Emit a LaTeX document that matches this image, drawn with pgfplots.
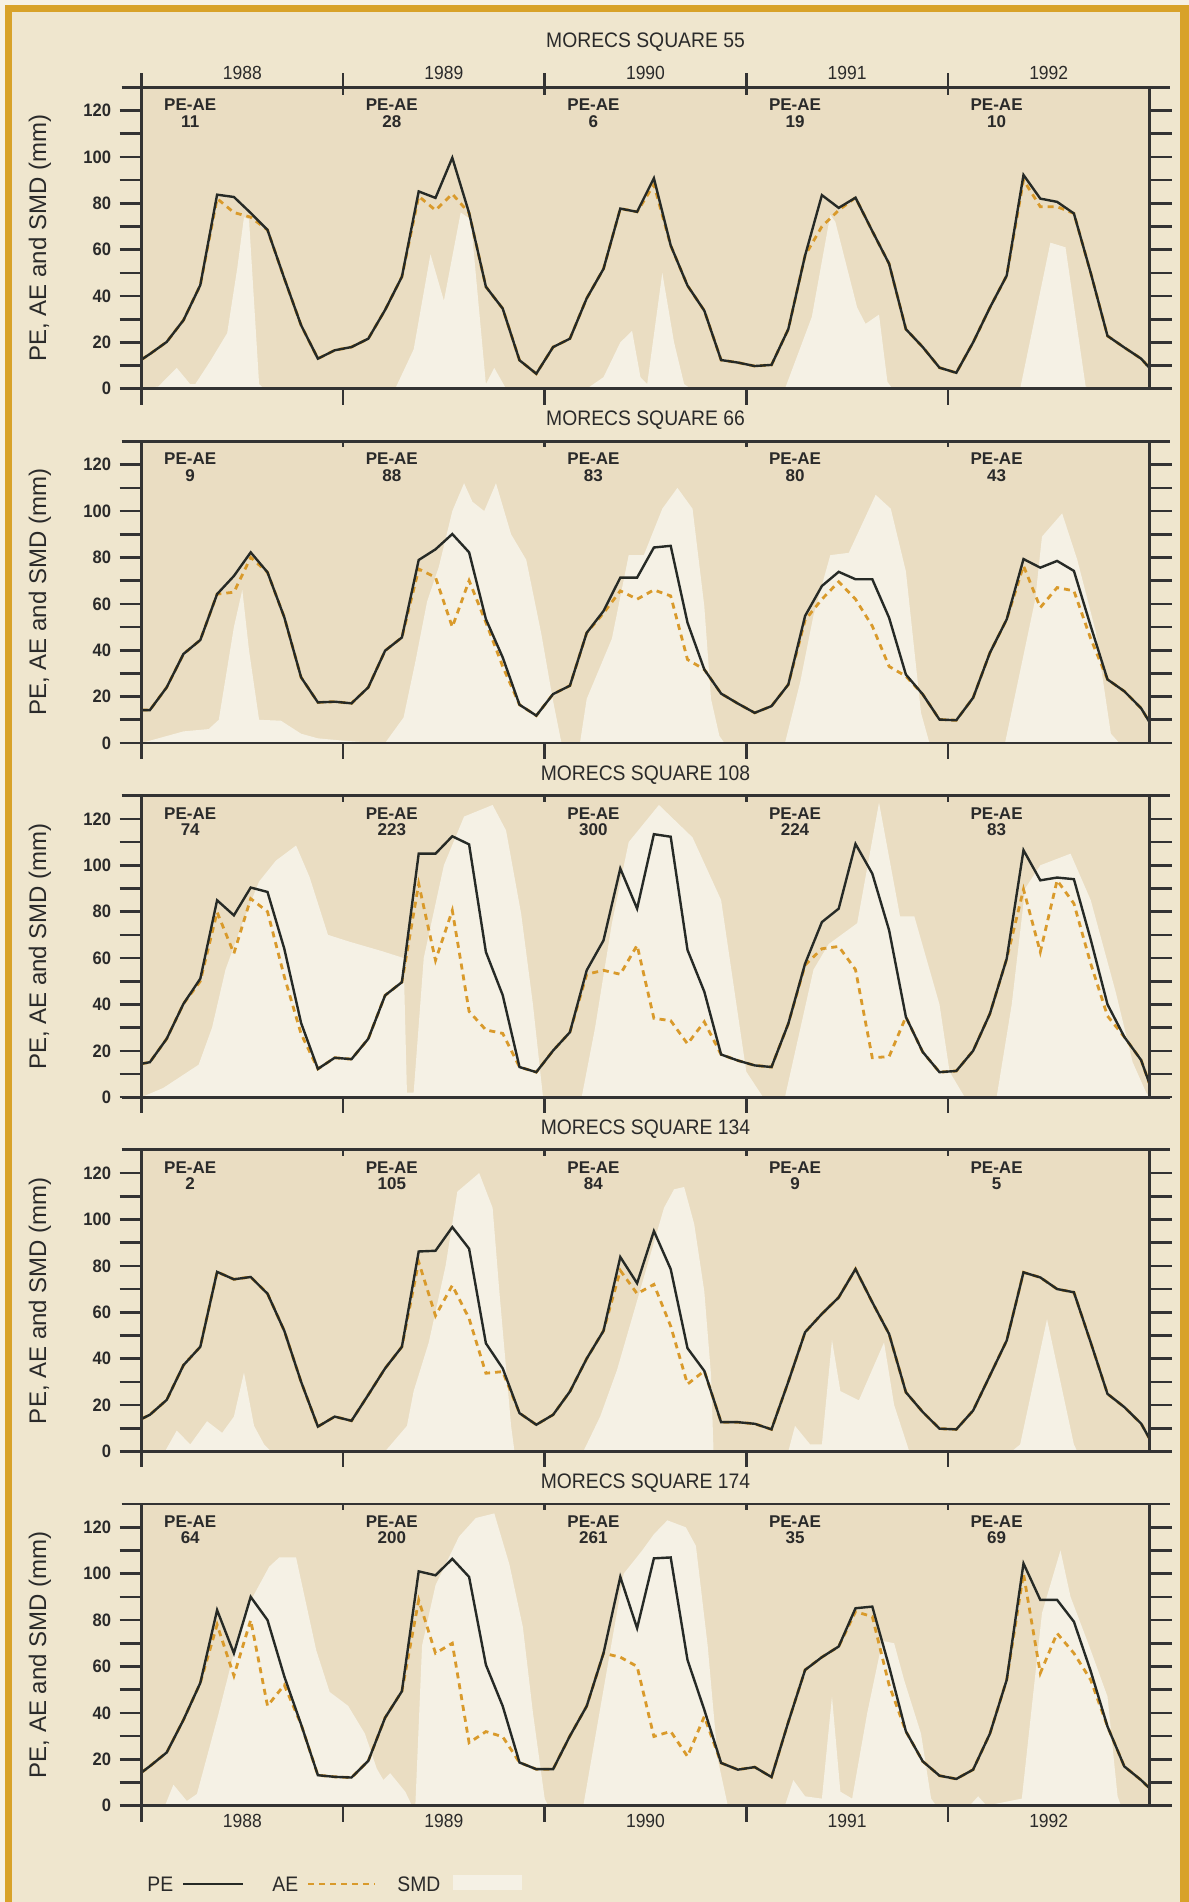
\documentclass[border=0pt]{standalone}
\usepackage{fontspec}
\setmainfont{Liberation Sans}
\newfontfamily\condfont[FakeStretch=0.92]{Liberation Sans}
\usepackage{pgfplots}
\pgfplotsset{compat=1.18}
\usepackage{pgfplotstable}

\definecolor{edgecol}{HTML}{F6F1E4}
\definecolor{gold}{HTML}{D8A229}
\definecolor{pagebg}{HTML}{EFE6CE}
\definecolor{plotbg}{HTML}{EADDC2}
\definecolor{smdfill}{HTML}{F5F1E5}
\definecolor{pecol}{HTML}{262A26}
\definecolor{aecol}{HTML}{D99A2B}
\definecolor{axcol}{HTML}{333333}
\definecolor{txtcol}{HTML}{2A2A2A}

\newcommand\titlefont{\condfont\fontsize{10.5}{12}\selectfont}
\newcommand\tickfont{\condfont\bfseries\fontsize{9}{10}\selectfont}
\newcommand\peaefont{\bfseries\fontsize{8.5}{10}\selectfont}
\newcommand\yearfont{\condfont\fontsize{9.5}{11}\selectfont}
\newcommand\ylabfont{\fontsize{12}{14}\selectfont}
\newcommand\legfont{\condfont\fontsize{10.5}{12}\selectfont}

% MORECS square 55
\pgfplotstableread[row sep=\\]{
x pe ae\\
0 12.6 12.6\\ 0.5 15 15\\ 1.5 20.2 20.2\\ 2.5 29.6 29.6\\ 3.5 44.7 44.7\\ 4.5 83.7 82\\
5.5 82.7 76\\ 6.5 75.8 74\\ 7.5 68.5 68.5\\ 8.5 47.6 47.6\\ 9.5 27.4 27.4\\ 10.5 13 13\\
11.5 16.6 16.6\\ 12.5 18 18\\ 13.5 21.6 21.6\\ 14.5 34 34\\ 15.5 48.3 48.3\\ 16.5 85.1 83\\
17.5 82.3 77\\ 18.5 99.6 84\\ 19.5 75.8 75.8\\ 20.5 44 44\\ 21.5 34.6 34.6\\ 22.5 12.3 12.3\\
23.5 6.5 6.5\\ 24.5 18 18\\ 25.5 21.6 21.6\\ 26.5 39 39\\ 27.5 51.7 51.7\\ 28.5 77.7 77.7\\
29.5 76.3 76.3\\ 30.5 90.8 88\\ 31.5 61.8 61.8\\ 32.5 44.5 44.5\\ 33.5 33.7 33.7\\ 34.5 12.4 12.4\\
35.5 11.3 11.3\\ 36.5 9.8 9.8\\ 37.5 10.3 10.3\\ 38.5 25.7 25.7\\ 39.5 57.5 57.5\\ 40.5 83.5 70\\
41.5 78 77\\ 42.5 82.4 82.4\\ 43.5 68 68\\ 44.5 53.9 53.9\\ 45.5 25.7 25.7\\ 46.5 18 18\\
47.5 9.1 9.1\\ 48.5 6.9 6.9\\ 49.5 20 20\\ 50.5 35 35\\ 51.5 48.8 48.8\\ 52.5 92.2 90\\
53.5 82 78.5\\ 54.5 80.6 78.5\\ 55.5 75.6 75.6\\ 56.5 50 50\\ 57.5 22.8 22.8\\ 58.5 17.8 17.8\\
59.5 13 13\\ 60 9 9\\
}\tabA

% MORECS square 66
\pgfplotstableread[row sep=\\]{
x pe ae\\
0 14.2 14.2\\ 0.5 14.2 14.2\\ 1.5 24 24\\ 2.5 38.4 38.4\\ 3.5 44.4 44.4\\ 4.5 64.2 64.2\\
5.5 72 65\\ 6.5 82.2 80\\ 7.5 73.6 73.6\\ 8.5 54.2 54.2\\ 9.5 28.3 28.3\\ 10.5 17.5 17.5\\
11.5 17.8 17.8\\ 12.5 17.1 17.1\\ 13.5 24 24\\ 14.5 39.8 39.8\\ 15.5 45.5 45.5\\ 16.5 78.9 75\\
17.5 83.5 71.4\\ 18.5 90.1 50\\ 19.5 82.2 70\\ 20.5 53.4 52\\ 21.5 36.9 33\\ 22.5 16.5 16.5\\
23.5 11.8 11.8\\ 24.5 21.1 21.1\\ 25.5 24.7 24.7\\ 26.5 47.5 47.5\\ 27.5 56.9 56\\ 28.5 71.3 65.6\\
29.5 71.3 62\\ 30.5 84.3 66\\ 31.5 85 63.4\\ 32.5 51.9 36\\ 33.5 31.7 31.7\\ 34.5 21.3 21.3\\
35.5 17 17\\ 36.5 13 13\\ 37.5 15.9 15.9\\ 38.5 25.2 25.2\\ 39.5 54.8 53\\ 40.5 67.7 62\\
41.5 73.8 69.5\\ 42.5 70.6 62\\ 43.5 70.6 50.4\\ 44.5 54 33\\ 45.5 29.5 28.8\\ 46.5 21 21\\
47.5 10.1 10.1\\ 48.5 9.8 9.8\\ 49.5 19.5 19.5\\ 50.5 38.9 38.9\\ 51.5 53.3 53.3\\ 52.5 79.3 76.4\\
53.5 75.6 58.4\\ 54.5 78.5 67\\ 55.5 74.2 65.6\\ 56.5 50.4 45\\ 57.5 27.4 27.4\\ 58.5 22.3 22.3\\
59.5 15 15\\ 60 9 9\\
}\tabB

% MORECS square 108
\pgfplotstableread[row sep=\\]{
x pe ae\\
0 14.4 14.4\\ 0.5 15.1 15.1\\ 1.5 25.2 25.2\\ 2.5 40.3 40.3\\ 3.5 51.1 50\\ 4.5 84.9 79.8\\
5.5 78.4 62\\ 6.5 90.4 85.6\\ 7.5 88.5 80\\ 8.5 64 52\\ 9.5 32 27.3\\ 10.5 12.2 12.2\\
11.5 17 17\\ 12.5 16.4 16.4\\ 13.5 25.2 25.2\\ 14.5 43.9 43.9\\ 15.5 49.6 49.6\\ 16.5 105 92\\
17.5 105 59\\ 18.5 112.5 80.5\\ 19.5 109 37\\ 20.5 62.6 29\\ 21.5 44 27.5\\ 22.5 13 13\\
23.5 10.8 10.8\\ 24.5 20.1 20.1\\ 25.5 28 28\\ 26.5 54.7 53\\ 27.5 67.6 54.7\\ 28.5 98.6 53\\
29.5 81.3 65.5\\ 30.5 113.4 34\\ 31.5 112.3 33\\ 32.5 63.5 23\\ 33.5 45.5 32.5\\ 34.5 18.4 18.4\\
35.5 15.8 15.8\\ 36.5 13.7 13.7\\ 37.5 13 13\\ 38.5 31.7 31.7\\ 39.5 57.6 57\\ 40.5 75.5 64\\
41.5 81.3 65\\ 42.5 109.2 55\\ 43.5 96.4 17\\ 44.5 72 17.5\\ 45.5 34.6 34.6\\ 46.5 19.5 19.5\\
47.5 10.8 10.8\\ 48.5 11.3 11.3\\ 49.5 20 20\\ 50.5 36 36\\ 51.5 59.7 59.7\\ 52.5 106.5 89.6\\
53.5 93.5 62.6\\ 54.5 94.7 93.5\\ 55.5 94 83.5\\ 56.5 68 57.6\\ 57.5 40 35\\ 58.5 26 26\\
59.5 16 16\\ 60 5.8 5.8\\
}\tabC

% MORECS square 134
\pgfplotstableread[row sep=\\]{
x pe ae\\
0 14 14\\ 0.5 15.8 15.8\\ 1.5 22.2 22.2\\ 2.5 37.2 37.2\\ 3.5 45.1 45.1\\ 4.5 77.4 77.4\\
5.5 74.2 74.2\\ 6.5 75.2 75.2\\ 7.5 68 68\\ 8.5 52 52\\ 9.5 30 30\\ 10.5 10.7 10.7\\
11.5 15 15\\ 12.5 13.2 13.2\\ 13.5 24.4 24.4\\ 14.5 35.8 35.8\\ 15.5 45.1 45.1\\ 16.5 86.2 81.7\\
17.5 86.5 58.5\\ 18.5 96.7 71.6\\ 19.5 87.4 57.3\\ 20.5 46.6 33.7\\ 21.5 35.8 34.4\\ 22.5 16.5 16.5\\
23.5 11.5 11.5\\ 24.5 15.8 15.8\\ 25.5 25.8 25.8\\ 26.5 40 40\\ 27.5 52 52\\ 28.5 83.8 78\\
29.5 72.5 68\\ 30.5 95 72\\ 31.5 78.6 54\\ 32.5 44.5 29\\ 33.5 34.7 34.7\\ 34.5 12.6 12.6\\
35.5 12.6 12.6\\ 36.5 11.9 11.9\\ 37.5 9.5 9.5\\ 38.5 30 30\\ 39.5 51.4 51.4\\ 40.5 59.3 59.3\\
41.5 66.4 66.4\\ 42.5 78.6 78.6\\ 43.5 64.3 64.3\\ 44.5 50.6 50.6\\ 45.5 25.5 25.5\\ 46.5 17 17\\
47.5 9.8 9.8\\ 48.5 9.5 9.5\\ 49.5 17.6 17.6\\ 50.5 32.7 32.7\\ 51.5 47.8 47.8\\ 52.5 77.2 77.2\\
53.5 75 75\\ 54.5 70 70\\ 55.5 68.6 68.6\\ 56.5 47 47\\ 57.5 24.8 24.8\\ 58.5 19.1 19.1\\
59.5 12 12\\ 60 5.5 5.5\\
}\tabD

% MORECS square 174
\pgfplotstableread[row sep=\\]{
x pe ae\\
0 14.3 14.3\\ 0.5 17 17\\ 1.5 22.9 22.9\\ 2.5 37 37\\ 3.5 52.9 52.9\\ 4.5 84.3 78\\
5.5 65.7 56\\ 6.5 90 80\\ 7.5 80 43\\ 8.5 55.7 52\\ 9.5 35 35\\ 10.5 13.1 13.1\\
11.5 12.4 12.4\\ 12.5 12.1 12.1\\ 13.5 19.3 19.3\\ 14.5 37.9 37.9\\ 15.5 49.3 49.3\\ 16.5 101 88.6\\
17.5 99.3 65.7\\ 18.5 106.4 70\\ 19.5 98.6 27.1\\ 20.5 60.7 31.9\\ 21.5 42.9 29.7\\ 22.5 18.6 18.6\\
23.5 15.7 15.7\\ 24.5 15.7 15.7\\ 25.5 30 30\\ 26.5 42.9 42.9\\ 27.5 65.7 65.7\\ 28.5 98.6 64\\
29.5 76.5 60\\ 30.5 106.6 29.8\\ 31.5 107 32\\ 32.5 62.8 21.2\\ 33.5 41.3 38.4\\ 34.5 18.4 18.4\\
35.5 15.5 15.5\\ 36.5 16.6 16.6\\ 37.5 12.3 12.3\\ 38.5 36 36\\ 39.5 58.5 58.5\\ 40.5 64 64\\
41.5 68.6 68.6\\ 42.5 85.1 83.6\\ 43.5 85.8 81.5\\ 44.5 60 52\\ 45.5 32 32\\ 46.5 19.1 19.1\\
47.5 12.9 12.9\\ 48.5 11.5 11.5\\ 49.5 15.5 15.5\\ 50.5 31 31\\ 51.5 54.2 54.2\\ 52.5 104.4 100\\
53.5 88.7 57.1\\ 54.5 88.7 74.3\\ 55.5 79.3 65.7\\ 56.5 58 54.2\\ 57.5 34.1 34.1\\ 58.5 16.9 16.9\\
59.5 11 11\\ 60 7.5 7.5\\
}\tabE

\tikzset{
  smd/.style={draw=none, fill=smdfill},
  aeline/.style={aecol, line width=1.4pt, dash pattern=on 3pt off 2.5pt},
  peline/.style={pecol, line width=1.2pt},
}
\pgfplotsset{
  panel/.style={
    scale only axis, width=504pt, height=150.75pt, anchor=south west,
    xmin=0, xmax=60, ymin=0, ymax=130,
    clip=false, axis on top,
    axis line style={draw=axcol, line width=1.4pt},
    axis background/.style={fill=plotbg},
    xtick=\empty,
    ytick={0,20,...,120}, minor ytick={10,30,...,110},
    tick align=outside, major tick length=11pt, minor tick length=11pt,
    tick style={draw=axcol, line width=1.3pt},
    yticklabel pos=left,
    yticklabel style={font=\tickfont, text=txtcol, inner sep=0pt, xshift=-4pt},
    /pgf/number format/assume math mode=true,
  },
}

% lines round the box, year ticks and the y label
\newcommand{\frameparts}{%
  \draw[axcol, line width=1.4pt] ([xshift=-10pt]rel axis cs:0,0) -- ([xshift=10pt]rel axis cs:1,0);
  \draw[axcol, line width=1.4pt] ([xshift=-10pt]rel axis cs:0,1) -- ([xshift=10pt]rel axis cs:1,1);
  \pgfplotsinvokeforeach{0,12,24,36,48}{\draw[axcol, line width=1.3pt] (axis cs:##1,0) -- ++(0,-8pt);}
  \node[rotate=90, font=\ylabfont, text=txtcol] at ([xshift=-50.75pt]rel axis cs:0,0.5) {PE, AE and SMD (mm)};
}
\newcommand{\innerticks}{%
  \pgfplotsinvokeforeach{12,24,36,48}{\draw[axcol, line width=1.3pt] (axis cs:##1,130) -- ++(0,-3pt);}
}
\newcommand{\peae}[2]{%
  \node[font=\peaefont, text=txtcol] at ([yshift=-8.75pt]axis cs:#1,130) {PE-AE};
  \node[font=\peaefont, text=txtcol] at ([yshift=-17pt]axis cs:#1,130) {#2};
}

\begin{document}
\begin{tikzpicture}
\useasboundingbox (0,0) rectangle (594.5pt,951pt);
\fill[edgecol] (0,0) rectangle (594.5pt,951pt);
\fill[gold] (2.5pt,0) rectangle (594.5pt,948.5pt);
\fill[pagebg] (6pt,0) rectangle (590pt,945pt);

% ---- square 55
\begin{axis}[panel, at={(70.75pt,756.6pt)}]
\addplot[smd] coordinates {(0,0) (1.0,1) (2.1,9) (2.9,2) (3.2,2) (4.1,12) (5.1,24) (5.7,52) (6.1,74) (6.4,73) (7.0,2) (7.3,0)
 (15.1,0) (16.2,17) (17.2,58) (18.0,38) (19.0,76) (19.6,73) (20.5,2) (21.0,9) (21.7,0)
 (26.5,0) (27.5,5) (28.5,20) (29.2,25) (29.7,5) (30.1,2) (31.0,50) (31.7,20) (32.3,2) (32.7,0)
 (38.3,0) (39.9,31) (41.0,75) (41.3,72) (42.6,35) (43.1,28) (43.9,32) (44.4,3) (44.7,0)
 (52.3,0) (54.1,63) (55.0,61) (56.2,1) (56.5,0) (60,0)};
\addplot[aeline] table[x=x, y=ae] {\tabA};
\addplot[peline] table[x=x, y=pe] {\tabA};
\frameparts
\pgfplotsinvokeforeach{0,12,24,36,48}{\draw[axcol, line width=1.3pt] ([yshift=7pt]axis cs:#1,130) -- ++(0,-11pt);}
\node[font=\titlefont, text=txtcol] at ([yshift=22.8pt]rel axis cs:0.5,1) {MORECS SQUARE 55};
\node[font=\yearfont, text=txtcol] at ([yshift=7pt]axis cs:6,130) {1988};
\node[font=\yearfont, text=txtcol] at ([yshift=7pt]axis cs:18,130) {1989};
\node[font=\yearfont, text=txtcol] at ([yshift=7pt]axis cs:30,130) {1990};
\node[font=\yearfont, text=txtcol] at ([yshift=7pt]axis cs:42,130) {1991};
\node[font=\yearfont, text=txtcol] at ([yshift=7pt]axis cs:54,130) {1992};
\peae{2.9}{11}\peae{14.9}{28}\peae{26.9}{6}\peae{38.9}{19}\peae{50.9}{10}
\end{axis}

% ---- square 66
\begin{axis}[panel, at={(70.75pt,579.5pt)}]
\addplot[smd] coordinates {(0,0) (1,2) (2.5,5) (4,6) (4.6,10) (5.5,50) (6.0,66) (6.4,40) (7.0,10) (8.3,9.6) (9.5,4) (10.5,2) (12,1) (14,0)
 (14.5,0) (15.6,11) (16.3,35) (17,61) (17.7,76) (18.5,100) (19.2,112) (19.7,104) (20.4,100) (21.1,112) (22,90) (22.9,79) (23.8,47) (24.5,18) (25,0)
 (26.1,0) (26.5,19) (28,45) (29,81) (29.9,81) (31,101) (31.9,110) (32.8,101) (33.5,59) (33.9,19) (34.4,3) (34.7,0)
 (38.3,0) (39.2,26) (40,55) (41,81) (42.1,82) (43.7,107) (44.6,101) (45.5,74) (46.4,13) (46.9,0)
 (51.4,0) (53.2,62) (53.6,89) (54.8,99) (55.7,79) (56.8,48) (57.7,4) (58.2,0) (60,0)};
\addplot[aeline] table[x=x, y=ae] {\tabB};
\addplot[peline] table[x=x, y=pe] {\tabB};
\frameparts\innerticks
\node[font=\titlefont, text=txtcol] at ([yshift=10.5pt]rel axis cs:0.5,1) {MORECS SQUARE 66};
\peae{2.9}{9}\peae{14.9}{88}\peae{26.9}{83}\peae{38.9}{80}\peae{50.9}{43}
\end{axis}

% ---- square 108
\begin{axis}[panel, at={(70.75pt,402.4pt)}]
\addplot[smd] coordinates {(0,0) (1.3,4) (3.4,14) (4.2,30) (5,55) (6,75) (7,93) (8,102) (9.2,108.5) (10,95) (11.1,70) (12.4,67) (14.3,63) (15.6,60) (15.8,2) (16.2,2)
 (16.8,60) (18,100) (19.2,121) (20.9,126) (21.7,115) (22.6,79) (23.3,40) (23.9,0)
 (26.2,0) (27,30) (28,75) (29,110) (30.8,126) (32.8,112) (34.5,85) (36,11) (37,0)
 (38.3,0) (40,55) (40.9,66) (42.6,75) (43.9,127) (45.15,78) (46,78) (47.5,40) (48.1,11) (49,0)
 (50.9,0) (51.8,40) (52.6,90) (53.5,100) (55.3,105) (56.5,85) (58,45) (59,15) (59.8,2) (60,0)};
\addplot[aeline] table[x=x, y=ae] {\tabC};
\addplot[peline] table[x=x, y=pe] {\tabC};
\frameparts\innerticks
\node[font=\titlefont, text=txtcol] at ([yshift=10.5pt]rel axis cs:0.5,1) {MORECS SQUARE 108};
\peae{2.9}{74}\peae{14.9}{223}\peae{26.9}{300}\peae{38.9}{224}\peae{50.9}{83}
\end{axis}

% ---- square 134
\begin{axis}[panel, at={(70.75pt,225.3pt)}]
\addplot[smd] coordinates {(0,0) (1.4,0) (2.1,9) (2.9,3) (3.9,13) (4.8,8) (5.5,15) (6.1,34) (6.7,11) (7.3,3) (7.7,0)
 (14.5,0) (15.8,11) (16.2,26) (17.1,47) (18.1,80) (18.8,112) (20.1,120) (20.9,105) (21.3,69) (22,11) (22.2,0)
 (26.3,0) (27.3,15) (28.3,35) (29.3,60) (30.3,85) (31.1,105) (31.7,113) (32.3,114) (32.9,98) (33.5,69) (33.9,33) (34.05,0)
 (38.5,0) (38.9,11) (39.8,3) (40.5,3) (41.1,48) (41.6,26) (42.7,22) (44.2,47) (44.8,20) (45.7,0)
 (51.8,0) (52.3,3) (53.9,57) (55.5,3) (55.7,0) (60,0)};
\addplot[aeline] table[x=x, y=ae] {\tabD};
\addplot[peline] table[x=x, y=pe] {\tabD};
\frameparts\innerticks
\node[font=\titlefont, text=txtcol] at ([yshift=10.5pt]rel axis cs:0.5,1) {MORECS SQUARE 134};
\peae{2.9}{2}\peae{14.9}{105}\peae{26.9}{84}\peae{38.9}{9}\peae{50.9}{5}
\end{axis}

% ---- square 174
\begin{axis}[panel, at={(70.75pt,48.2pt)}]
\addplot[smd] coordinates {(0,0) (1.4,0) (1.9,9) (2.7,2) (3.3,5) (4.6,40) (6.1,83) (7.6,103) (8.2,107) (9.2,107) (10.4,67) (11.2,49) (12.3,43) (13.3,31) (14,16) (14.4,11) (14.8,14) (15.7,6) (16.1,0)
 (16.3,0) (16.7,69) (17.5,95) (18.9,116) (19.9,124) (21,126) (21.9,104) (22.7,77) (23.3,40) (24,3) (24.2,0)
 (26.3,0) (27.5,50) (28.7,100) (29.8,110) (30.5,117) (31.3,123) (32.4,120) (33,112) (33.7,69) (34.3,20) (34.9,0)
 (38.3,0) (38.8,11) (39.5,4) (40.5,3) (41.1,47) (41.6,6) (42.3,3) (43.2,40) (44.1,71) (44.8,70) (45.4,54) (46.4,31) (47,3) (47.3,0)
 (49.3,0) (49.8,4) (50.3,0) (52.4,3) (53.6,83) (54.7,110) (55.3,90) (56.4,69) (57.5,47) (58.1,4) (58.3,0) (60,0)};
\addplot[aeline] table[x=x, y=ae] {\tabE};
\addplot[peline] table[x=x, y=pe] {\tabE};
\frameparts\innerticks
\node[font=\titlefont, text=txtcol] at ([yshift=10.5pt]rel axis cs:0.5,1) {MORECS SQUARE 174};
\node[font=\yearfont, text=txtcol] at ([yshift=-7.7pt]axis cs:6,0) {1988};
\node[font=\yearfont, text=txtcol] at ([yshift=-7.7pt]axis cs:18,0) {1989};
\node[font=\yearfont, text=txtcol] at ([yshift=-7.7pt]axis cs:30,0) {1990};
\node[font=\yearfont, text=txtcol] at ([yshift=-7.7pt]axis cs:42,0) {1991};
\node[font=\yearfont, text=txtcol] at ([yshift=-7.7pt]axis cs:54,0) {1992};
\peae{2.9}{64}\peae{14.9}{200}\peae{26.9}{261}\peae{38.9}{35}\peae{50.9}{69}
\end{axis}

% legend
\node[anchor=west, inner sep=0pt, font=\legfont, text=txtcol] at (73.5pt,9pt) {PE};
\draw[peline] (91.5pt,9pt) -- (121.5pt,9pt);
\node[anchor=west, inner sep=0pt, font=\legfont, text=txtcol] at (136pt,9pt) {AE};
\draw[aeline] (154pt,9pt) -- (187.5pt,9pt);
\node[anchor=west, inner sep=0pt, font=\legfont, text=txtcol] at (198.5pt,9pt) {SMD};
\fill[smdfill] (226.5pt,6pt) rectangle (261pt,13.5pt);
\end{tikzpicture}
\end{document}
